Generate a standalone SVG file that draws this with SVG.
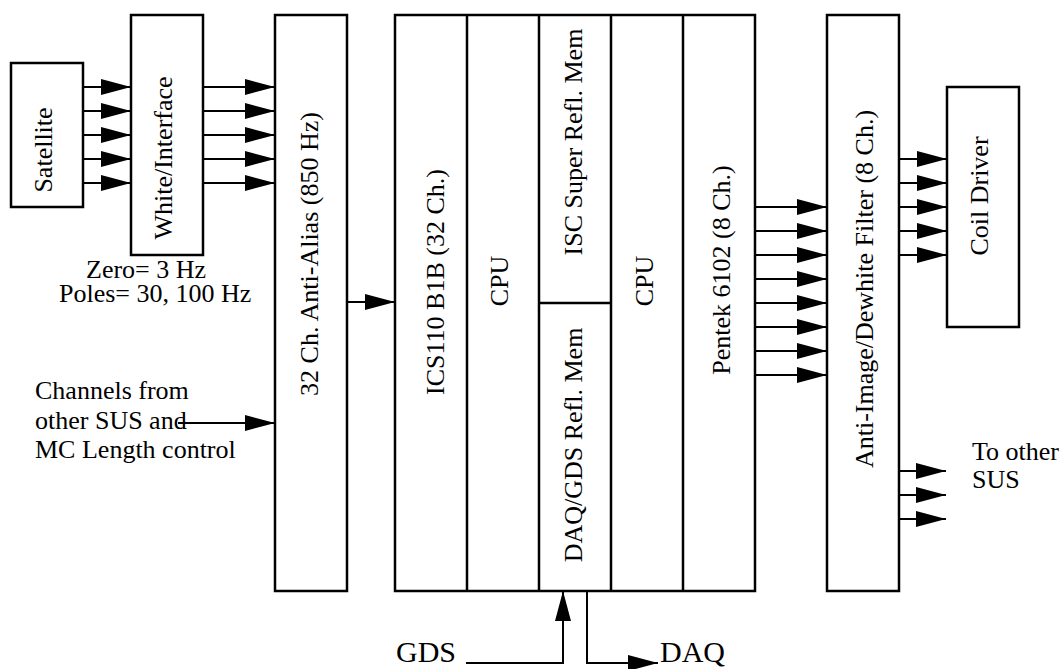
<svg xmlns="http://www.w3.org/2000/svg" width="1062" height="669" viewBox="0 0 1062 669">
  <style>
    .box { fill: #fff; stroke: #000; stroke-width: 2.5; }
    .div { fill: none; stroke: #000; stroke-width: 2.5; }
    .lbl { font-family: "Liberation Serif", "Times New Roman", serif; font-size: 26px; fill: #000; }
    .big { font-size: 30px; }
    .mid { text-anchor: middle; }
    .wire { fill: none; stroke: #000; stroke-width: 2; marker-end: url(#head); }
  </style>
  <defs>
    <marker id="head" viewBox="0 0 30 16" markerWidth="30" markerHeight="16" refX="30" refY="8" markerUnits="userSpaceOnUse" orient="auto">
      <path d="M0,0 L30,8 L0,16 Z" fill="#000"/>
    </marker>
  </defs>

  <rect width="1062" height="669" fill="#fff"/>

  <g id="satellite">
    <rect class="box" x="11" y="63" width="72" height="144"/>
    <text class="lbl mid" transform="translate(52,150) rotate(-90)">Satellite</text>
  </g>

  <g id="white-interface">
    <rect class="box" x="131" y="15" width="72" height="240"/>
    <text class="lbl mid" transform="translate(172,158) rotate(-90)">White/Interface</text>
  </g>

  <g id="filter-note">
    <text class="lbl" x="86" y="278">Zero= 3 Hz</text>
    <text class="lbl" x="59" y="302">Poles= 30, 100 Hz</text>
  </g>

  <g id="anti-alias">
    <rect class="box" x="275" y="15" width="72" height="576"/>
    <text class="lbl mid" transform="translate(318,254) rotate(-90)">32 Ch. Anti-Alias (850 Hz)</text>
  </g>

  <g id="other-channels">
    <text class="lbl" x="35" y="399">Channels from</text>
    <text class="lbl" x="35" y="429">other SUS and</text>
    <text class="lbl" x="35" y="458">MC Length control</text>
  </g>

  <g id="vme-crate">
    <rect class="box" x="395" y="15" width="360" height="576"/>
    <line class="div" x1="467" y1="15" x2="467" y2="591"/>
    <line class="div" x1="539" y1="15" x2="539" y2="591"/>
    <line class="div" x1="611" y1="15" x2="611" y2="591"/>
    <line class="div" x1="683" y1="15" x2="683" y2="591"/>
    <line class="div" x1="539" y1="303" x2="611" y2="303"/>
    <text class="lbl mid" transform="translate(444,282) rotate(-90)">ICS110 B1B (32 Ch.)</text>
    <text class="lbl mid" transform="translate(508,281) rotate(-90)">CPU</text>
    <text class="lbl mid" transform="translate(582,142) rotate(-90)">ISC Super Refl. Mem</text>
    <text class="lbl mid" transform="translate(582,445) rotate(-90)">DAQ/GDS Refl. Mem</text>
    <text class="lbl mid" transform="translate(653,281) rotate(-90)">CPU</text>
    <text class="lbl mid" transform="translate(730,270) rotate(-90)">Pentek 6102 (8 Ch.)</text>
  </g>

  <g id="anti-image">
    <rect class="box" x="827" y="15" width="72" height="576"/>
    <text class="lbl mid" transform="translate(873,289) rotate(-90)">Anti-Image/Dewhite Filter (8 Ch.)</text>
  </g>

  <g id="coil-driver">
    <rect class="box" x="947" y="87" width="72" height="240"/>
    <text class="lbl mid" transform="translate(988,196) rotate(-90)">Coil Driver</text>
  </g>

  <g id="other-sus">
    <text class="lbl" x="972" y="460">To other</text>
    <text class="lbl" x="972" y="488">SUS</text>
  </g>

  <g id="gds-daq">
    <text class="lbl big" x="396" y="662">GDS</text>
    <text class="lbl big" x="660" y="662">DAQ</text>
  </g>

  <g id="connectors">
    <!-- satellite to whitening -->
    <path class="wire" d="M83,87 H131"/>
    <path class="wire" d="M83,111 H131"/>
    <path class="wire" d="M83,135 H131"/>
    <path class="wire" d="M83,159 H131"/>
    <path class="wire" d="M83,183 H131"/>
    <!-- whitening to anti-alias -->
    <path class="wire" d="M203,87 H275"/>
    <path class="wire" d="M203,111 H275"/>
    <path class="wire" d="M203,135 H275"/>
    <path class="wire" d="M203,159 H275"/>
    <path class="wire" d="M203,183 H275"/>
    <!-- extra channels -->
    <path class="wire" d="M178,423 H275"/>
    <!-- anti-alias to ADC -->
    <path class="wire" d="M347,302 H395"/>
    <!-- DAC to anti-image -->
    <path class="wire" d="M755,207 H827"/>
    <path class="wire" d="M755,231 H827"/>
    <path class="wire" d="M755,255 H827"/>
    <path class="wire" d="M755,279 H827"/>
    <path class="wire" d="M755,303 H827"/>
    <path class="wire" d="M755,327 H827"/>
    <path class="wire" d="M755,351 H827"/>
    <path class="wire" d="M755,375 H827"/>
    <!-- anti-image to coil driver -->
    <path class="wire" d="M899,159 H947"/>
    <path class="wire" d="M899,183 H947"/>
    <path class="wire" d="M899,207 H947"/>
    <path class="wire" d="M899,231 H947"/>
    <path class="wire" d="M899,255 H947"/>
    <!-- to other SUS -->
    <path class="wire" d="M899,471 H946"/>
    <path class="wire" d="M899,495 H946"/>
    <path class="wire" d="M899,519 H946"/>
    <!-- GDS in, DAQ out -->
    <path class="wire" d="M466,663 H563 V591"/>
    <path class="wire" d="M587,591 V663 H658"/>
  </g>
</svg>
